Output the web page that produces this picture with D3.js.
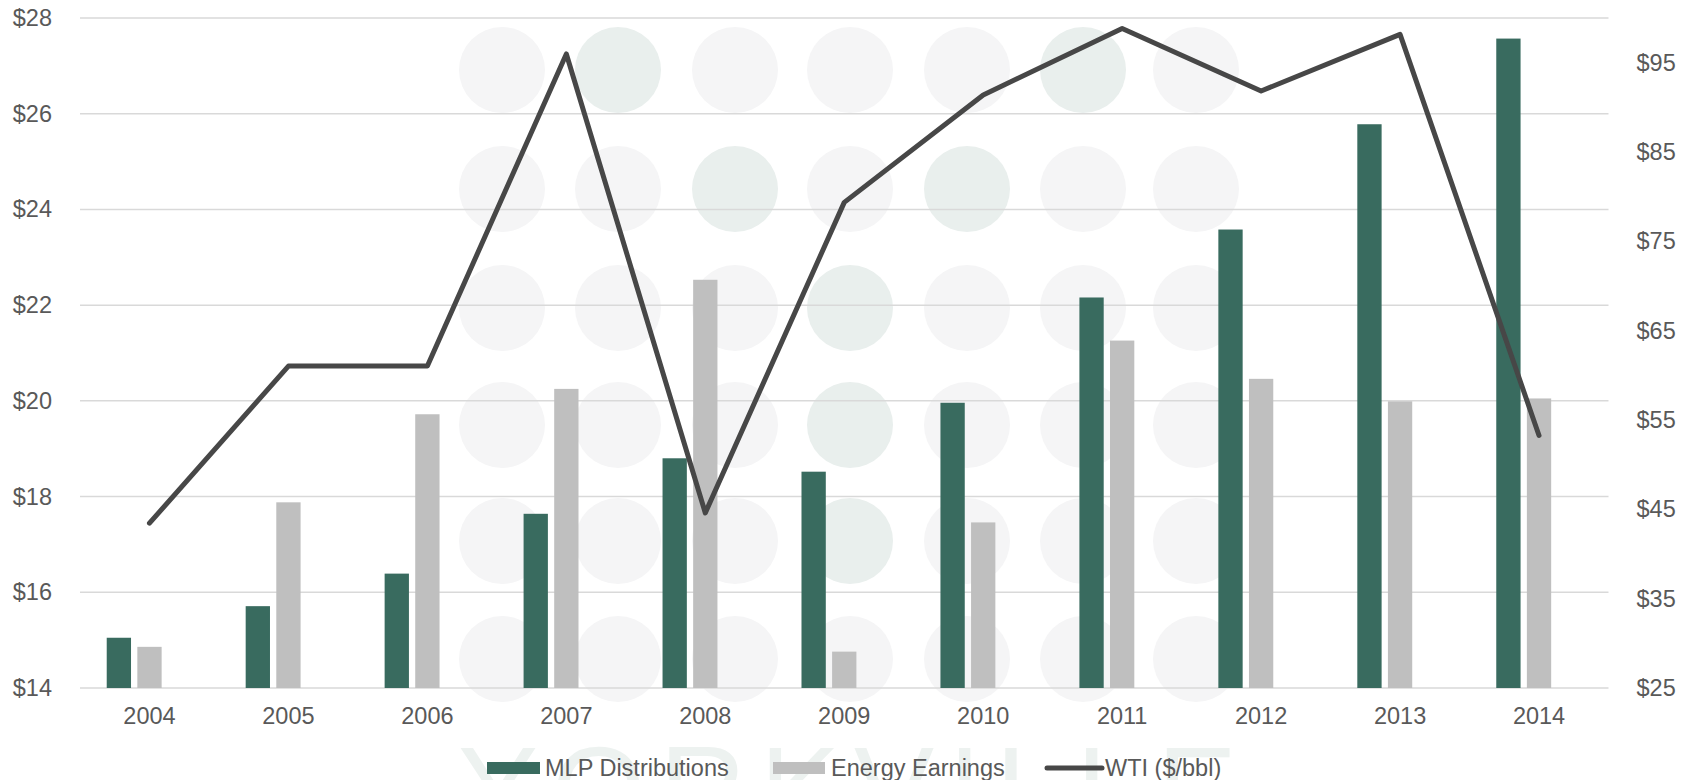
<!DOCTYPE html>
<html>
<head>
<meta charset="utf-8">
<script src="https://cdn.jsdelivr.net/npm/d3@7"></script>
<style>
  html, body { margin: 0; padding: 0; background: #ffffff; }
  svg { display: block; font-family: "Liberation Sans", Arial, sans-serif; }
</style>
</head>
<body>
<svg id="chart" width="1694" height="780"></svg>
<script>
const years = ["2004","2005","2006","2007","2008","2009","2010","2011","2012","2013","2014"];
const mlpDistributions = [15.05, 15.71, 16.39, 17.64, 18.80, 18.52, 19.96, 22.16, 23.58, 25.78, 27.57];
const energyEarnings   = [14.86, 17.88, 19.72, 20.25, 22.53, 14.76, 17.46, 21.26, 20.46, 19.99, 20.05];
const wti              = [43.45, 61.04, 61.05, 95.98, 44.60, 79.36, 91.38, 98.83, 91.83, 98.17, 53.27];
const leftTicks  = [14, 16, 18, 20, 22, 24, 26, 28];
const rightTicks = [25, 35, 45, 55, 65, 75, 85, 95];
const seriesNames = ["MLP Distributions", "Energy Earnings", "WTI ($/bbl)"];

const C_MLP = "#396b5f", C_EE = "#bfbfbf", C_WTI = "#474747", C_TXT = "#595959", C_GRID = "#d9d9d9";
const FONT = 23.5;

const svg = d3.select("#chart");
const plot = { left: 80, right: 1608.5, top: 18, bottom: 688 };

const x = d3.scaleBand().domain(years).range([plot.left, plot.right]).paddingInner(0).paddingOuter(0);
const xs = d3.scaleBand().domain(["mlp", "ee", "empty"]).range([0, x.bandwidth()]).paddingInner(0.206).paddingOuter(0.873);
const yL = d3.scaleLinear().domain([14, 28]).range([plot.bottom, plot.top]);
const yR = d3.scaleLinear().domain([25, 100]).range([plot.bottom, plot.top]);

// watermark: dotted circle grid + word
const wm = svg.append("g");
const circCols = [502, 618, 735, 850, 967, 1083, 1196];
const circRows = [70, 189, 308, 425, 541, 659];
const greens = new Set(["0-1","0-5","1-2","1-4","2-3","3-3","4-3"]);
circRows.forEach((cy, r) => circCols.forEach((cx, c) => {
  wm.append("circle").attr("cx", cx).attr("cy", cy).attr("r", 43)
    .attr("fill", greens.has(r + "-" + c) ? "#e9efed" : "#f5f5f6");
}));
wm.append("text").attr("x", 458).attr("y", 831)
  .attr("font-size", 120).attr("letter-spacing", 14)
  .attr("fill", "#edf2f0").text("YORKVILLE");

// gridlines (left axis)
svg.append("g").selectAll("line").data(leftTicks).join("line")
  .attr("x1", plot.left).attr("x2", plot.right)
  .attr("y1", d => yL(d)).attr("y2", d => yL(d))
  .attr("stroke", C_GRID).attr("stroke-width", 1.5);

// left axis
const axL = svg.append("g").attr("transform", `translate(${plot.left},0)`)
  .call(d3.axisLeft(yL).tickValues(leftTicks).tickSize(0).tickPadding(28).tickFormat(d => "$" + d));
axL.select(".domain").remove();
axL.selectAll("text").attr("font-size", FONT).attr("fill", C_TXT).attr("font-family", "Liberation Sans, Arial, sans-serif");

// right axis
const axR = svg.append("g").attr("transform", `translate(${plot.right},0)`)
  .call(d3.axisRight(yR).tickValues(rightTicks).tickSize(0).tickPadding(28).tickFormat(d => "$" + d));
axR.select(".domain").remove();
axR.selectAll("text").attr("font-size", FONT).attr("fill", C_TXT).attr("font-family", "Liberation Sans, Arial, sans-serif");

// bottom axis
const axB = svg.append("g").attr("transform", `translate(0,${plot.bottom})`)
  .call(d3.axisBottom(x).tickSize(0).tickPadding(19));
axB.select(".domain").remove();
axB.selectAll("text").attr("font-size", FONT).attr("fill", C_TXT).attr("font-family", "Liberation Sans, Arial, sans-serif");

// bars
const rows = years.map((yr, i) => ({ yr, mlp: mlpDistributions[i], ee: energyEarnings[i], wti: wti[i] }));
svg.append("g").selectAll("rect").data(rows).join("rect")
  .attr("x", d => x(d.yr) + xs("mlp")).attr("width", xs.bandwidth())
  .attr("y", d => yL(d.mlp)).attr("height", d => yL(14) - yL(d.mlp))
  .attr("fill", C_MLP);
svg.append("g").selectAll("rect").data(rows).join("rect")
  .attr("x", d => x(d.yr) + xs("ee")).attr("width", xs.bandwidth())
  .attr("y", d => yL(d.ee)).attr("height", d => yL(14) - yL(d.ee))
  .attr("fill", C_EE);

// WTI line
const line = d3.line().x(d => x(d.yr) + x.bandwidth() / 2).y(d => yR(d.wti));
svg.append("path").datum(rows).attr("d", line)
  .attr("fill", "none").attr("stroke", C_WTI).attr("stroke-width", 5)
  .attr("stroke-linejoin", "round").attr("stroke-linecap", "round");

// legend
const leg = svg.append("g");
const legY = 768;
const legItems = [
  { name: seriesNames[0], type: "rect", color: C_MLP, x0: 487, w: 53, tx: 545 },
  { name: seriesNames[1], type: "rect", color: C_EE, x0: 773, w: 52, tx: 831 },
  { name: seriesNames[2], type: "line", color: C_WTI, x0: 1047, w: 55, tx: 1105 }
];
legItems.forEach(it => {
  if (it.type === "rect") {
    leg.append("rect").attr("x", it.x0).attr("y", legY - 6).attr("width", it.w).attr("height", 12).attr("fill", it.color);
  } else {
    leg.append("line").attr("x1", it.x0).attr("x2", it.x0 + it.w).attr("y1", legY).attr("y2", legY)
      .attr("stroke", it.color).attr("stroke-width", 5).attr("stroke-linecap", "round");
  }
  leg.append("text").attr("x", it.tx).attr("y", legY).attr("dy", "0.35em")
    .attr("font-size", FONT).attr("fill", C_TXT).text(it.name);
});
</script>
</body>
</html>
